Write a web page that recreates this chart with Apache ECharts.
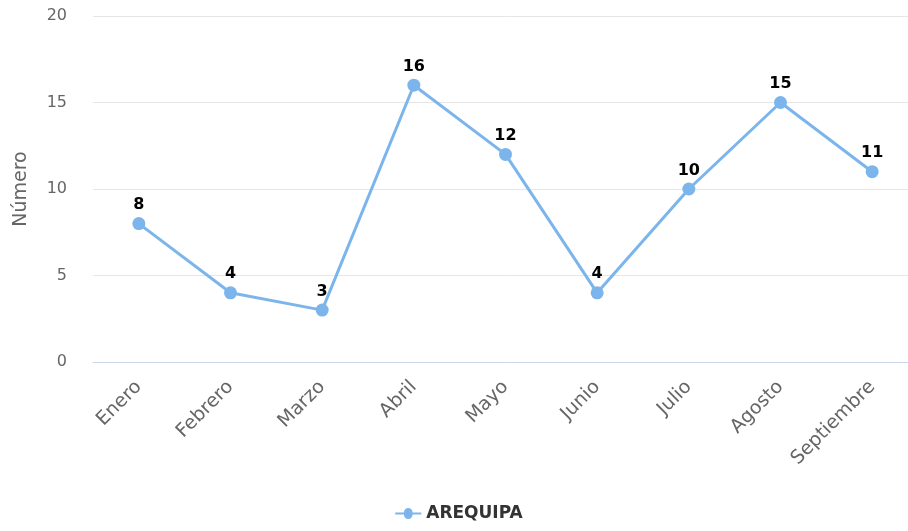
<!DOCTYPE html>
<html><head><meta charset="utf-8">
<script src="https://cdn.jsdelivr.net/npm/echarts@6/dist/echarts.min.js"></script>
<style>html,body{margin:0;padding:0;background:#fff;overflow:hidden}#c{width:918px;height:531px}</style>
</head><body><div id="c"></div>
<script>
const categories = ["Enero","Febrero","Marzo","Abril","Mayo","Junio","Julio","Agosto","Septiembre"];
const values = [8,4,3,16,12,4,10,15,11];
const seriesName = "AREQUIPA";
const chart = echarts.init(document.getElementById('c'));
chart.setOption({
  animation:false,
  textStyle:{fontFamily:"DejaVu Sans"},
  grid:{left:93,right:0,top:16,bottom:169},
  legend:{bottom:4,left:'center',itemWidth:26,itemHeight:13,itemGap:8,
    textStyle:{fontSize:17,fontWeight:'bold',color:'#333'},
    data:[{name:seriesName,icon:'path://M0,5 L8,5 A4,4 0 1 1 16,5 L24,5 L24,7 L16,7 A4,4 0 1 1 8,7 L0,7 Z'}]},
  xAxis:{type:'category',data:categories,
    axisLine:{lineStyle:{color:'#ccd6eb'}},axisTick:{show:false},
    axisLabel:{rotate:45,color:'#666',fontSize:19,margin:22}},
  yAxis:{type:'value',min:0,max:20,interval:5,name:'Número',nameLocation:'middle',nameGap:62,
    nameTextStyle:{color:'#666',fontSize:19},
    axisLabel:{color:'#666',fontSize:16,margin:26},
    splitLine:{lineStyle:{color:'#e6e6e6'}}},
  series:[{name:seriesName,type:'line',data:values,
    lineStyle:{color:'#7cb5ec',width:3},itemStyle:{color:'#7cb5ec'},
    symbol:'circle',symbolSize:13,
    label:{show:true,position:'top',distance:4,fontWeight:'bold',fontSize:16,color:'#000'}}]
});
</script></body></html>
